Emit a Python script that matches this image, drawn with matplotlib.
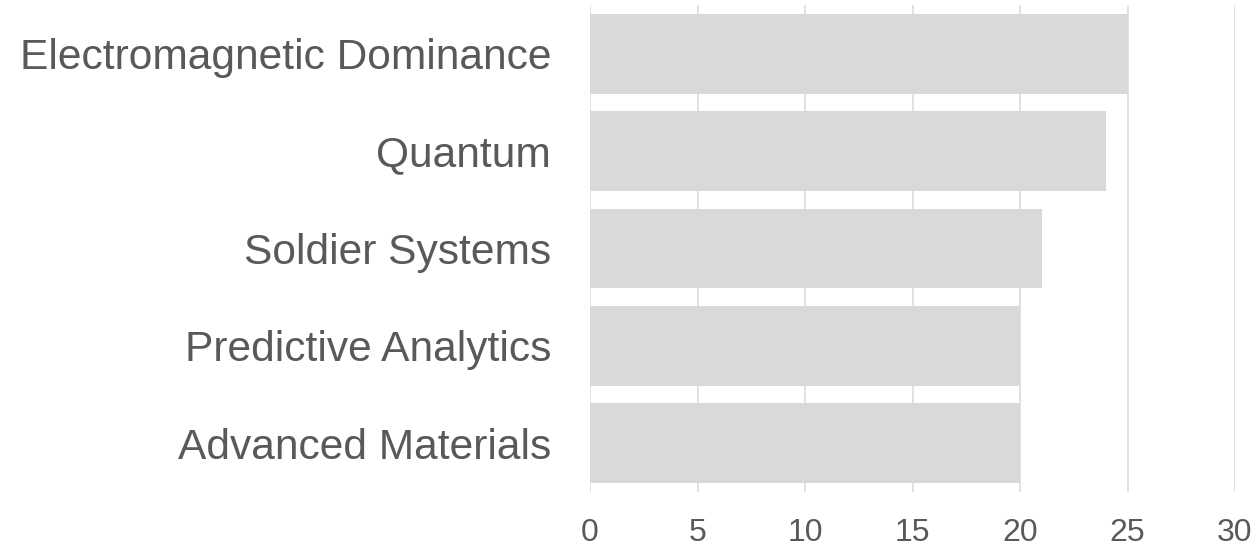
import matplotlib
matplotlib.use("Agg")
import matplotlib.pyplot as plt

categories = ["Electromagnetic Dominance", "Quantum", "Soldier Systems",
              "Predictive Analytics", "Advanced Materials"]
values = [25, 24, 21, 20, 20]
x_ticks = [0, 5, 10, 15, 20, 25, 30]

TEXT = "#595959"
BAR = "#d9d9d9"
GRID = "#d9d9d9"

plt.rcParams["font.family"] = ["Liberation Sans", "DejaVu Sans"]

fig = plt.figure(figsize=(12.56, 5.48), dpi=100)
ax = fig.add_axes([590 / 1256, 56 / 548, 645 / 1256, 487 / 548])

ypos = list(range(len(categories)))
ax.barh(ypos, values, height=0.82, color=BAR, zorder=2)

ax.set_xlim(0, 30)
ax.set_ylim(len(categories) - 0.5, -0.5)
ax.set_xticks(x_ticks)
ax.set_xticklabels([str(t) for t in x_ticks])
ax.set_yticks(ypos)
ax.set_yticklabels(categories)

ax.tick_params(axis="x", length=0, pad=19, labelsize=23, labelcolor=TEXT)
ax.tick_params(axis="y", length=0, pad=28, labelsize=30.6, labelcolor=TEXT)

ax.grid(axis="x", color=GRID, linewidth=1.1, zorder=1)
ax.grid(axis="y", visible=False)
ax.set_axisbelow(True)
for s in ax.spines.values():
    s.set_visible(False)

fig.savefig("out.png", dpi=100)
